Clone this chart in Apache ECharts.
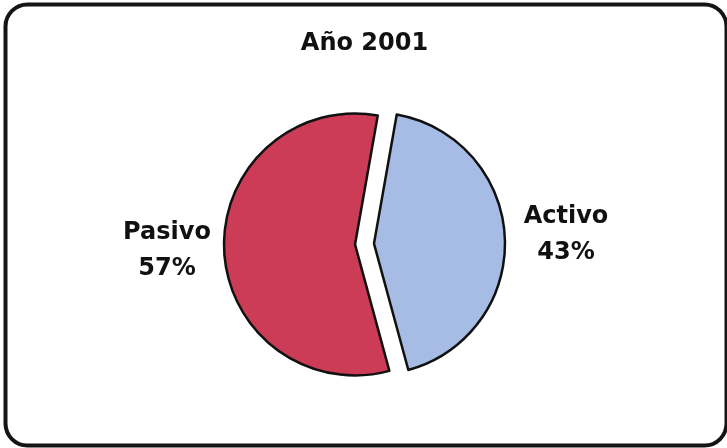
<!DOCTYPE html>
<html>
<head>
<meta charset="utf-8">
<script src="https://cdn.jsdelivr.net/npm/echarts@6/dist/echarts.min.js"></script>
<style>
html,body{margin:0;padding:0;background:#fff;}
#c{width:727px;height:448px;}
</style>
</head>
<body>
<div id="c"></div>
<script>
var titleText = 'Año 2001';
var categories = ['Activo', 'Pasivo'];
var values = [43, 57];
var colors = ['#A7BCE4', '#CC3C56'];

var chart = echarts.init(document.getElementById('c'), null, {renderer: 'canvas'});
var labelPos = [
  {x: 566, y: 235},
  {x: 167, y: 251}
];
var FONT = 'DejaVu Sans, Liberation Sans, Arial, sans-serif';
var common = {
  type: 'pie',
  center: [364.5, 244],
  radius: 131,
  startAngle: 80,
  clockwise: true,
  emphasis: {disabled: true}
};
var option = {
  backgroundColor: '#ffffff',
  animation: false,
  title: {
    text: titleText,
    left: 359.5,
    textAlign: 'center',
    top: 27,
    textStyle: {fontFamily: FONT, fontWeight: 'bold', fontSize: 24, color: '#111'}
  },
  graphic: [{
    type: 'rect',
    shape: {x: 5.5, y: 4.5, width: 721, height: 441, r: 22},
    style: {fill: 'none', stroke: '#151515', lineWidth: 4},
    silent: true
  }],
  series: [
    Object.assign({}, common, {
      name: 'slices',
      selectedMode: 'multiple',
      selectedOffset: 9.5,
      select: {itemStyle: {borderColor: '#111', borderWidth: 2.5}},
      itemStyle: {borderColor: '#111', borderWidth: 2.5},
      label: {show: false},
      labelLine: {show: false},
      data: categories.map(function (c, i) {
        return {name: c, value: values[i], selected: true, itemStyle: {color: colors[i]}};
      })
    }),
    Object.assign({}, common, {
      name: 'labels',
      silent: true,
      z: 5,
      itemStyle: {color: 'rgba(0,0,0,0)', borderWidth: 0},
      label: {
        show: true,
        position: 'outside',
        formatter: '{b}\n{d}%',
        fontFamily: FONT,
        fontWeight: 'bold',
        fontSize: 24,
        lineHeight: 36,
        color: '#111',
        align: 'center'
      },
      labelLine: {show: false},
      labelLayout: function (p) {
        var pos = labelPos[p.dataIndex];
        return {x: pos.x, y: pos.y, align: 'center', verticalAlign: 'middle'};
      },
      data: categories.map(function (c, i) {
        return {name: c, value: values[i]};
      })
    })
  ]
};
chart.setOption(option);
</script>
</body>
</html>
